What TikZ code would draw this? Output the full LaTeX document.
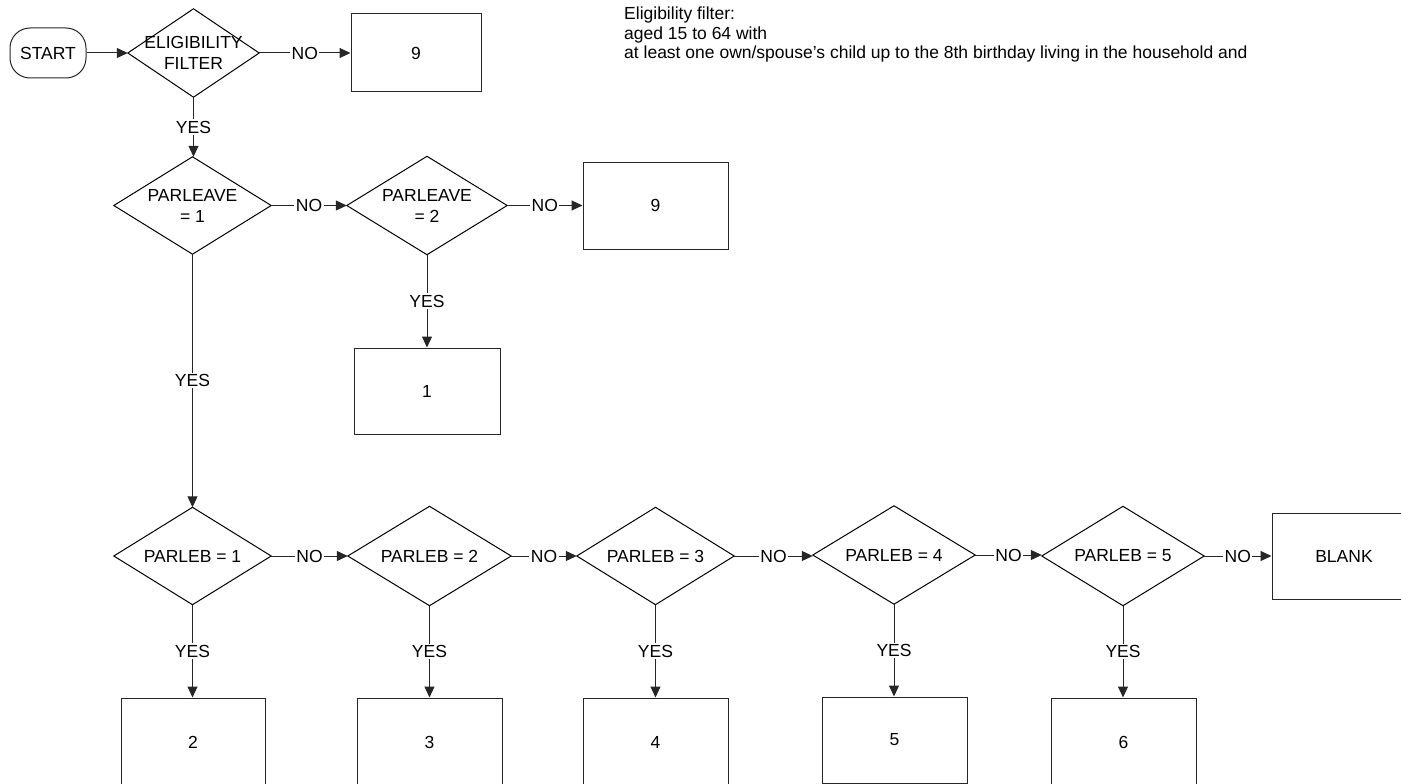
\documentclass[tikz,border=0pt]{standalone}
\usepackage{fontspec}
\setmainfont{Liberation Sans}
\usetikzlibrary{arrows.meta}
\begin{document}
\begin{tikzpicture}[x=1pt,y=-1pt,
  font=\fontsize{17.5}{21}\selectfont,
  outline/.style={draw=black!85, line width=1pt},
  box/.style={outline, rectangle, inner sep=0pt},
  startbox/.style={outline, rectangle, rounded corners=20pt, inner sep=0pt, minimum width=76pt, minimum height=50pt},
  decision/.style={rectangle, inner sep=0pt, align=center},
  conn/.style={draw=black!85, line width=1pt, -{Triangle[length=11pt,width=10pt]}},
  lab/.style={fill=white, inner sep=1.5pt, midway},
  note/.style={align=left, anchor=base west, inner sep=0pt, font=\fontsize{17.5}{19.5}\selectfont}]
\useasboundingbox (0,0) rectangle (1401,784);
\clip (0,0) rectangle (1401,784);

% nodes
\node[startbox] (start) at (48,53) {START};
\node[decision, minimum width=131pt, minimum height=88pt] (elig) at (193.5,53) {ELIGIBILITY\\FILTER};
\node[box, minimum width=130pt, minimum height=78pt] (nine1) at (416,53) {9};

\node[decision, minimum width=157pt, minimum height=97pt] (pl1) at (192.5,205.5) {PARLEAVE\\= 1};
\node[decision, minimum width=160pt, minimum height=98pt] (pl2) at (427,205.5) {PARLEAVE\\= 2};
\node[box, minimum width=145pt, minimum height=87pt] (nine2) at (655.5,205.5) {9};
\node[box, minimum width=146pt, minimum height=86pt] (one) at (427,391) {1};

\node[decision, minimum width=157pt, minimum height=97pt] (pb1) at (192.5,556) {PARLEB = 1};
\node[decision, minimum width=163pt, minimum height=99pt] (pb2) at (429.5,556) {PARLEB = 2};
\node[decision, minimum width=157pt, minimum height=97pt] (pb3) at (655.5,556) {PARLEB = 3};
\node[decision, minimum width=162pt, minimum height=98pt] (pb4) at (894,555) {PARLEB = 4};
\node[decision, minimum width=162pt, minimum height=99pt] (pb5) at (1123,556) {PARLEB = 5};
\node[box, minimum width=144pt, minimum height=86pt] (blank) at (1344,556) {BLANK};

\node[box, minimum width=144pt, minimum height=88pt] (two) at (193,742) {2};
\node[box, minimum width=145pt, minimum height=88pt] (three) at (429.5,742) {3};
\node[box, minimum width=145pt, minimum height=88pt] (four) at (655.5,742) {4};
\node[box, minimum width=145pt, minimum height=86pt] (five) at (894.5,740) {5};
\node[box, minimum width=145pt, minimum height=88pt] (six) at (1123.5,742) {6};

% diamond outlines
\foreach \n in {elig,pl1,pl2,pb1,pb2,pb3,pb4,pb5}
  \draw[line width=1pt] (\n.north) -- (\n.east) -- (\n.south) -- (\n.west) -- cycle;

% note (anchored at the baseline of its last line)
\node[note] (notetext) at (624,59) {Eligibility filter:\\aged 15 to 64 with\\at least one own/spouse’s child up to the 8th birthday living in the household and};

% connectors
\draw[conn] (start.east) -- (start.east -| elig.west);
\draw[conn] (elig.east) -- node[lab]{NO} (elig.east -| nine1.west);
\draw[conn] (elig.south) -- node[lab]{YES} (elig.south |- pl1.north);
\draw[conn] (pl1.east) -- node[lab]{NO} (pl1.east -| pl2.west);
\draw[conn] (pl2.east) -- node[lab]{NO} (pl2.east -| nine2.west);
\draw[conn] (pl2.south) -- node[lab]{YES} (pl2.south |- one.north);
\draw[conn] (pl1.south) -- node[lab]{YES} (pl1.south |- pb1.north);

\draw[conn] (pb1.east) -- node[lab]{NO} (pb1.east -| pb2.west);
\draw[conn] (pb2.east) -- node[lab]{NO} (pb2.east -| pb3.west);
\draw[conn] (pb3.east) -- node[lab]{NO} (pb3.east -| pb4.west);
\draw[conn] (pb4.east) -- node[lab]{NO} (pb4.east -| pb5.west);
\draw[conn] (pb5.east) -- node[lab]{NO} (pb5.east -| blank.west);

\draw[conn] (pb1.south) -- node[lab]{YES} (pb1.south |- two.north);
\draw[conn] (pb2.south) -- node[lab]{YES} (pb2.south |- three.north);
\draw[conn] (pb3.south) -- node[lab]{YES} (pb3.south |- four.north);
\draw[conn] (pb4.south) -- node[lab]{YES} (pb4.south |- five.north);
\draw[conn] (pb5.south) -- node[lab]{YES} (pb5.south |- six.north);
\end{tikzpicture}
\end{document}
